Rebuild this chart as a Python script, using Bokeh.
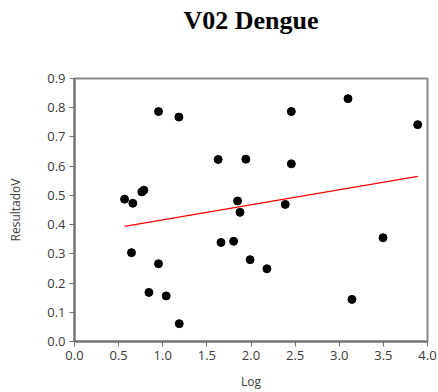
from bokeh.plotting import figure
from bokeh.models import Range1d, FixedTicker, NumeralTickFormatter, Title
from bokeh.embed import file_html
from bokeh.resources import INLINE

title_text = "V02 Dengue"
log_x = [0.567, 0.661, 0.763, 0.786, 0.952, 1.183, 1.628,
         1.942, 2.457, 3.099, 3.889, 2.457, 1.848, 1.875, 2.388,
         0.646, 0.952, 0.843, 1.039, 1.187,
         1.660, 1.803, 1.990, 2.180, 3.144, 3.496]
resultado_v = [0.487, 0.473, 0.512, 0.518, 0.787, 0.768, 0.623,
               0.624, 0.787, 0.831, 0.742, 0.608, 0.481, 0.442, 0.469,
               0.304, 0.266, 0.168, 0.156, 0.061,
               0.339, 0.343, 0.280, 0.249, 0.144, 0.355]
fit_x = [0.567, 3.889]
fit_y = [0.394, 0.565]
x_ticks = [0.0, 0.5, 1.0, 1.5, 2.0, 2.5, 3.0, 3.5, 4.0]
y_ticks = [0.0, 0.1, 0.2, 0.3, 0.4, 0.5, 0.6, 0.7, 0.8, 0.9]

p = figure(width=438, height=392, output_backend="svg", toolbar_location=None,
           title_location=None,
           x_range=Range1d(0, 4), y_range=Range1d(0, 0.9),
           min_border_left=74, min_border_right=11, min_border_top=0, min_border_bottom=50)

# spacer panel between frame and title (closest to frame), then the title itself
p.add_layout(Title(text=" ", text_font_size="10px", standoff=28), "above")
p.add_layout(Title(text=title_text, text_font="Liberation Serif", text_font_size="26px",
                   text_font_style="bold", text_color="black", align="center",
                   standoff=6), "above")

p.xgrid.visible = False
p.ygrid.visible = False
p.outline_line_color = "#8a8a8a"
p.outline_line_width = 2

for ax, ticks in ((p.xaxis[0], x_ticks), (p.yaxis[0], y_ticks)):
    ax.ticker = FixedTicker(ticks=ticks)
    ax.formatter = NumeralTickFormatter(format="0.0")
    ax.axis_line_color = "#6e6e6e"
    ax.axis_line_width = 2
    ax.major_tick_line_color = "#6e6e6e"
    ax.major_tick_line_width = 1
    ax.major_tick_out = 5
    ax.major_tick_in = 0
    ax.minor_tick_line_color = None
    ax.major_label_text_font = "Open Sans"
    ax.major_label_text_font_size = "13px"
    ax.major_label_text_color = "#3a3a3a"
    ax.axis_label_text_font = "Open Sans"
    ax.axis_label_text_font_size = "12px"
    ax.axis_label_text_font_style = "normal"
    ax.axis_label_text_color = "#3a3a3a"

p.xaxis.axis_label = "Log"
p.yaxis.axis_label = "ResultadoV"
p.xaxis.axis_label_standoff = 10
p.yaxis.axis_label_standoff = 20
p.xaxis.major_label_standoff = 4
p.yaxis.major_label_standoff = 4

p.line(fit_x, fit_y, line_color="red", line_width=1.2)
p.scatter(log_x, resultado_v, size=8, color="black")

open("out.html", "w").write(file_html(p, INLINE))
